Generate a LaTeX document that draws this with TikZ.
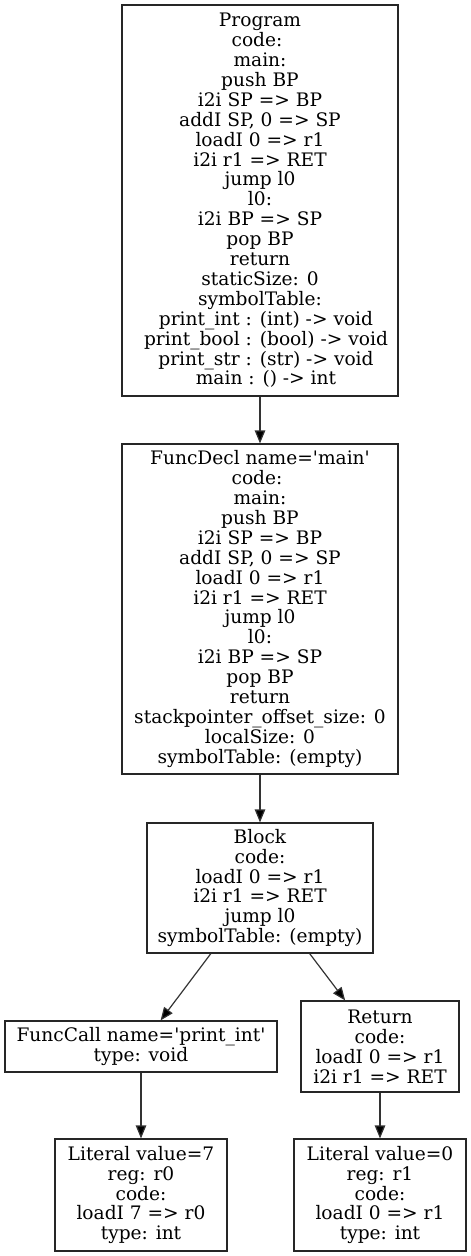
\documentclass[tikz,border=0pt]{standalone}
\usepackage{fontspec}
\setmainfont{DejaVu Serif}
\usetikzlibrary{arrows.meta}
\begin{document}
\begin{tikzpicture}[x=1pt,y=-1pt,
  treenode/.style={draw=black!85,line width=1.2pt,rectangle,inner sep=0pt,align=center,
    font=\fontsize{18.6}{19.9}\selectfont},
  edge/.style={draw=black!80,line width=1.2pt,-{Triangle[length=13pt,width=10.5pt,fill=black]}}]
\useasboundingbox (0,0) rectangle (471,1256);
\newcommand{\q}{\textquotesingle}
\newcommand{\tsp}{\hbox to 6pt{}}
\newcommand{\isp}{\hbox to 12pt{}}
\node[treenode,minimum width=276pt,minimum height=391pt] (prog) at (260,200.5) {Program\\code:\tsp\\main:\\push BP\\i2i SP => BP\\addI SP, 0 => SP\\loadI 0 => r1\\i2i r1 => RET\\jump l0\\l0:\\i2i BP => SP\\pop BP\\return\\staticSize: 0\\symbolTable:\\\isp print\_int : (int) -> void\\\isp print\_bool : (bool) -> void\\\isp print\_str : (str) -> void\\\isp main : () -> int};
\node[treenode,minimum width=276pt,minimum height=330pt] (func) at (260,609) {FuncDecl name=\q main\q\\code:\tsp\\main:\\push BP\\i2i SP => BP\\addI SP, 0 => SP\\loadI 0 => r1\\i2i r1 => RET\\jump l0\\l0:\\i2i BP => SP\\pop BP\\return\\stackpointer\_offset\_size: 0\\localSize: 0\\symbolTable: (empty)};
\node[treenode,minimum width=226pt,minimum height=130pt] (block) at (260,888) {Block\\code:\\loadI 0 => r1\\i2i r1 => RET\\jump l0\\symbolTable: (empty)};
\node[treenode,minimum width=272pt,minimum height=51pt] (call) at (141,1046.5) {FuncCall name=\q print\_int\q\\type: void};
\node[treenode,minimum width=158pt,minimum height=91pt] (ret) at (380,1046.5) {Return\\code:\\loadI 0 => r1\\i2i r1 => RET};
\node[treenode,minimum width=172pt,minimum height=112pt] (lit7) at (141,1195) {Literal value=7\\reg: r0\\code:\\loadI 7 => r0\\type: int};
\node[treenode,minimum width=172pt,minimum height=112pt] (lit0) at (380,1195) {Literal value=0\\reg: r1\\code:\\loadI 0 => r1\\type: int};
\draw[edge] (prog) -- (func);
\draw[edge] (func) -- (block);
\draw[edge] (block) -- (call);
\draw[edge] (block) -- (ret);
\draw[edge] (call) -- (lit7);
\draw[edge] (ret) -- (lit0);
\end{tikzpicture}
\end{document}
